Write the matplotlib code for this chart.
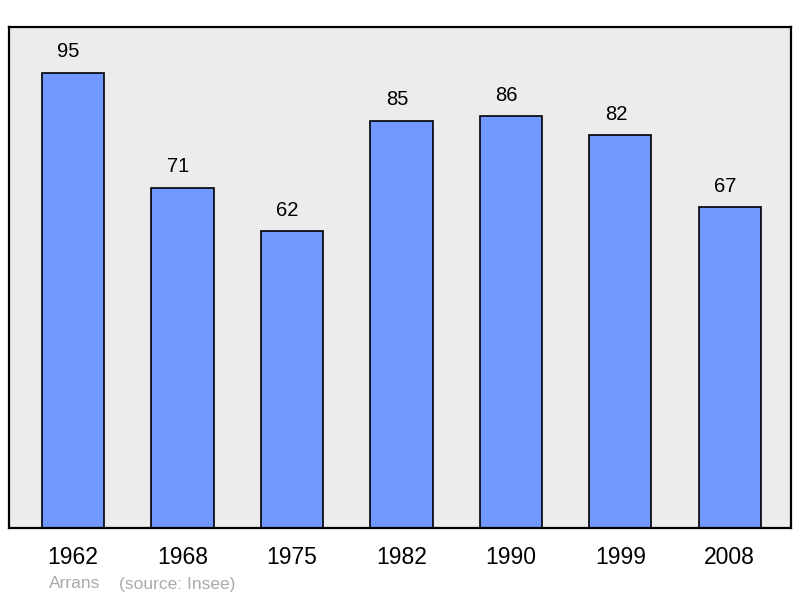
import matplotlib.pyplot as plt

plt.rcParams["font.family"] = ["Liberation Sans", "DejaVu Sans"]

years = ["1962", "1968", "1975", "1982", "1990", "1999", "2008"]
population = [95, 71, 62, 85, 86, 82, 67]

fig = plt.figure(figsize=(8.0, 5.98), dpi=100)
ax = fig.add_axes([9 / 800, 70 / 598, 782 / 800, 501 / 598])
ax.set_facecolor("#ececec")

x = list(range(len(years)))
ax.bar(x, population, width=0.57, color="#7098ff", edgecolor="black",
       linewidth=1.2, zorder=2)
for xi, v in zip(x, population):
    ax.text(xi - 0.04, v + 2.4, str(v), ha="center", va="bottom", fontsize=14.5)

ax.set_xlim(-0.585, 6.56)
ax.set_ylim(0, 104.6)
ax.set_yticks([])
ax.set_xticks(x)
ax.set_xticklabels(years, fontsize=16.5)
ax.tick_params(axis="x", length=0, pad=13)
for s in ax.spines.values():
    s.set_linewidth(1.6)
    s.set_color("black")

fig.text(49 / 800, 1 - 584 / 598, "Arrans", color="#aaaaaa", fontsize=12.5,
         va="center")
fig.text(119 / 800, 1 - 584 / 598, "(source: Insee)", color="#aaaaaa",
         fontsize=12.5, va="center")

fig.savefig("out.png", dpi=100)
